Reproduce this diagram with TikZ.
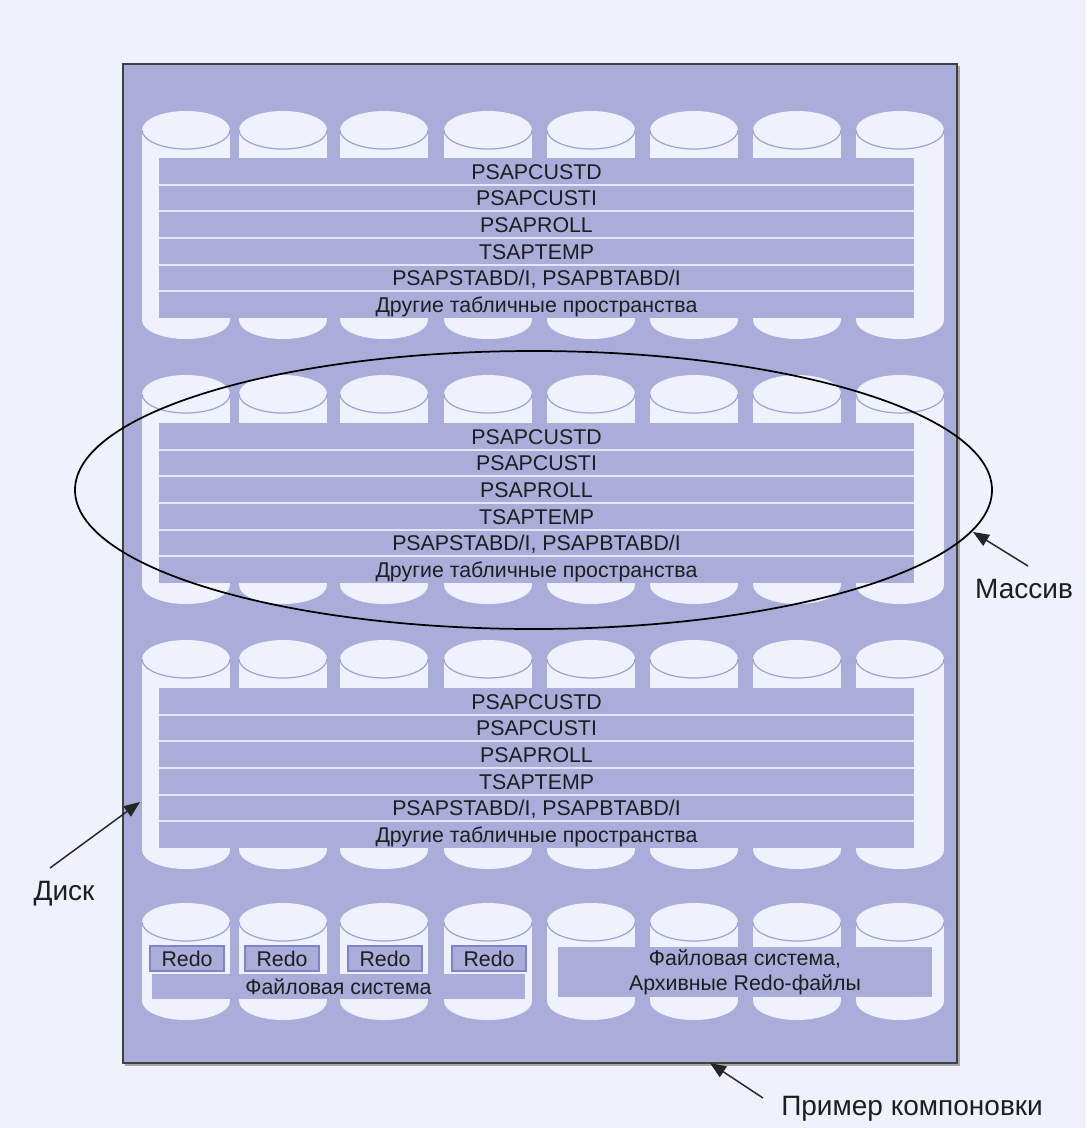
\documentclass[tikz,border=0pt]{standalone}
\usepackage{fontspec}
\setmainfont{Liberation Sans}
\usetikzlibrary{arrows.meta}
\definecolor{bg}{HTML}{EFF1FD}
\definecolor{panel}{HTML}{AAADDA}
\definecolor{cylfill}{HTML}{EFF1FD}
\definecolor{cylline}{HTML}{9EA1D6}
\definecolor{txt}{HTML}{1E1E1E}
\definecolor{redoline}{HTML}{7F83C8}
\definecolor{sepline}{HTML}{E4E6FA}

\newcommand\mycyl[3]{% center x, top ellipse y, bottom ellipse y
  \fill[cylfill] ({#1-44},#2) rectangle ({#1+44},#3);
  \fill[cylfill] (#1,#2) ellipse [x radius=44, y radius=19];
  \fill[cylfill] (#1,#3) ellipse [x radius=44, y radius=19];
  \draw[cylline, line width=0.9pt] ({#1-44},#2) arc [start angle=180, end angle=0, x radius=44, y radius=19];
}

\newcommand\myband[2]{% top y, name prefix
  \fill[panel] (159,#1) rectangle (914,{#1+160});
  \foreach \k in {1,...,5} {
    \draw[sepline, line width=1.4pt] (159,{#1+\k*26.667}) -- (914,{#1+\k*26.667});
  }
  \foreach \t [count=\k] in {PSAPCUSTD, PSAPCUSTI, PSAPROLL, TSAPTEMP, {PSAPSTABD/I, PSAPBTABD/I}, Другие табличные пространства} {
    \node[bandtext] (#2-\k) at (536.5,{#1+(\k-0.5)*26.667}) {\t};
  }
}

\begin{document}
\begin{tikzpicture}[x=0.75pt,y=-0.75pt,
  bandtext/.style={font=\fontsize{16}{18}\selectfont, text=txt, inner sep=0pt, text height=11.6pt, text depth=0pt},
  biglabel/.style={font=\fontsize{21}{24}\selectfont, text=txt, inner sep=0pt, anchor=base},
  pointer/.style={draw=black!85, line width=1.1pt, -{Triangle[length=12pt,width=9.5pt]}},
  redobox/.style={draw=redoline, line width=0.9pt, fill=panel},
]
% background
\fill[bg] (0,0) rectangle (1086,1128);
\useasboundingbox (0,0) rectangle (1086,1128);

% outer panel with slight shadow
\draw[black!35, line width=1.2pt] (959,66) -- (959,1065) -- (125,1065);
\draw[draw=black!75, line width=1.4pt, fill=panel] (123,64) rectangle (957,1063);

% cylinders, three big rows and the bottom row
\foreach \cx in {186,283,384,488,591,694,797,900} {
  \mycyl{\cx}{130}{320}
  \mycyl{\cx}{394}{585}
  \mycyl{\cx}{659}{850}
  \mycyl{\cx}{922}{1001}
}

% table-space bands
\myband{158}{a}
\myband{423}{b}
\myband{688}{c}

% bottom row: redo boxes and file system
\foreach \x/\n in {150/1,245/2,348/3,452/4} {
  \draw[redobox] (\x,946) rectangle ({\x+74},971);
  \node[bandtext] (redo\n) at ({\x+37},958.5) {Redo};
}
\fill[panel] (152,974) rectangle (525,999);
\node[bandtext] (fs) at (338.5,986.5) {Файловая система};

\fill[panel] (558,947) rectangle (932,997);
\node[font=\fontsize{16}{18.8}\selectfont, text=txt, align=center, inner sep=0pt] (fsarch) at (745,972) {Файловая система,\\Архивные Redo-файлы};

% array ellipse
\draw[black, line width=1.3pt] (533.5,490) ellipse [x radius=458.5, y radius=139];

% labels
\node[biglabel] (massiv) at (1024,598) {Массив};
\node[biglabel] (disk) at (64,900) {Диск};
\node[biglabel] (primer) at (912,1115) {Пример компоновки};

% pointers
\coordinate (massivTail) at (1028,566);
\coordinate (massivHead) at (973,532);
\coordinate (diskTail) at (50,868);
\coordinate (diskHead) at (140,802);
\coordinate (primerTail) at (763,1098);
\coordinate (primerHead) at (710,1063);
\draw[pointer] (massivTail) -- (massivHead);
\draw[pointer] (diskTail) -- (diskHead);
\draw[pointer] (primerTail) -- (primerHead);
\end{tikzpicture}
\end{document}
